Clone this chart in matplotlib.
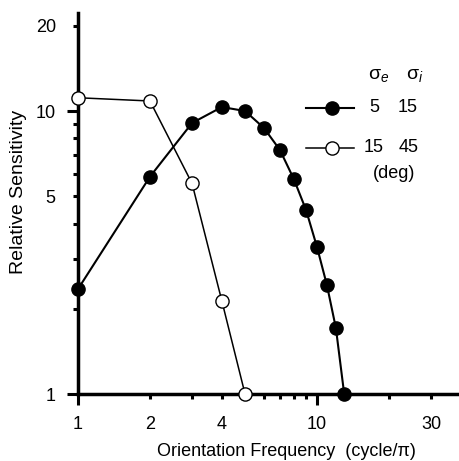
import matplotlib
matplotlib.use('Agg')
import matplotlib.pyplot as plt
from matplotlib.lines import Line2D
from matplotlib.ticker import FixedLocator, FixedFormatter

plt.rcParams['font.family'] = ['Liberation Sans', 'DejaVu Sans']
plt.rcParams['mathtext.fontset'] = 'custom'
plt.rcParams['mathtext.rm'] = 'Liberation Sans'
plt.rcParams['mathtext.it'] = 'Liberation Sans:italic'

# sigma_e = 5, sigma_i = 15 (filled)
freq_a = [1, 2, 3, 4, 5, 6, 7, 8, 9, 10, 11, 12, 13]
sens_a = [2.35, 5.86, 9.07, 10.33, 10.0, 8.71, 7.28, 5.75, 4.47, 3.31, 2.43, 1.71, 1.0]
# sigma_e = 15, sigma_i = 45 (open)
freq_b = [1, 2, 3, 4, 5]
sens_b = [11.14, 10.85, 5.55, 2.13, 1.0]

x_major = [1, 10]
x_minor = [2, 3, 4, 5, 6, 7, 8, 9, 20, 30]
x_minor_labels = ['2', '', '4', '', '', '', '', '', '', '30']
y_major = [1, 10]
y_minor = [2, 3, 4, 5, 6, 7, 8, 9, 20]
y_minor_labels = ['', '', '', '5', '', '', '', '', '20']

fig = plt.figure(figsize=(4.59, 4.61), dpi=100)
ax = fig.add_axes([0.170, 0.1453, 0.830, 0.8265])
ax.set_xscale('log')
ax.set_yscale('log')

ax.plot(freq_b, sens_b, '-o', color='black', lw=1.1, ms=9.5,
        mfc='white', mec='black', mew=1.0, clip_on=False, zorder=3)
ax.plot(freq_a, sens_a, '-o', color='black', lw=1.5, ms=9.5,
        mfc='black', mec='black', clip_on=False, zorder=4)

ax.set_xlim(1, 39.3)
ax.set_ylim(1, 22.2)

for s in ['top', 'right']:
    ax.spines[s].set_visible(False)
for s in ['left', 'bottom']:
    ax.spines[s].set_linewidth(2.5)

ax.xaxis.set_major_locator(FixedLocator(x_major))
ax.xaxis.set_major_formatter(FixedFormatter(['1', '10']))
ax.xaxis.set_minor_locator(FixedLocator(x_minor))
ax.xaxis.set_minor_formatter(FixedFormatter(x_minor_labels))
ax.yaxis.set_major_locator(FixedLocator(y_major))
ax.yaxis.set_major_formatter(FixedFormatter(['1', '10']))
ax.yaxis.set_minor_locator(FixedLocator(y_minor))
ax.yaxis.set_minor_formatter(FixedFormatter(y_minor_labels))

ax.tick_params(which='major', direction='out', length=8, width=2.2,
               labelsize=13, pad=8)
ax.tick_params(which='minor', direction='out', length=3.6, width=2.2,
               labelsize=13, pad=12.4)

ax.set_xlabel('Orientation Frequency  (cycle/\u03c0)', fontsize=13, va='baseline')
ax.xaxis.set_label_coords(0.546, -0.163)
ax.set_ylabel('Relative Sensitivity', fontsize=14, va='center')
ax.yaxis.set_label_coords(-0.155, 0.531)

# legend
tr = ax.transAxes
ax.add_line(Line2D([0.598, 0.724], [0.751, 0.751], color='black', lw=1.5,
                   transform=tr, clip_on=False))
ax.add_line(Line2D([0.667], [0.751], marker='o', ms=9.5, color='black',
                   transform=tr, clip_on=False))
ax.add_line(Line2D([0.598, 0.724], [0.646, 0.646], color='black', lw=1.1,
                   transform=tr, clip_on=False))
ax.add_line(Line2D([0.667], [0.646], marker='o', ms=9.5, mfc='white',
                   mec='black', mew=1.0, transform=tr, clip_on=False))
ax.text(0.79, 0.837, r'$\mathrm{\sigma}_{e}$', transform=tr, fontsize=14, ha='center', va='center')
ax.text(0.885, 0.837, r'$\mathrm{\sigma}_{i}$', transform=tr, fontsize=14, ha='center', va='center')
ax.text(0.777, 0.751, '5', transform=tr, fontsize=13, ha='center', va='center')
ax.text(0.864, 0.751, '15', transform=tr, fontsize=13, ha='center', va='center')
ax.text(0.777, 0.646, '15', transform=tr, fontsize=13, ha='center', va='center')
ax.text(0.867, 0.646, '45', transform=tr, fontsize=13, ha='center', va='center')
ax.text(0.829, 0.58, '(deg)', transform=tr, fontsize=13, ha='center', va='center')

fig.savefig('out.png', dpi=100)
